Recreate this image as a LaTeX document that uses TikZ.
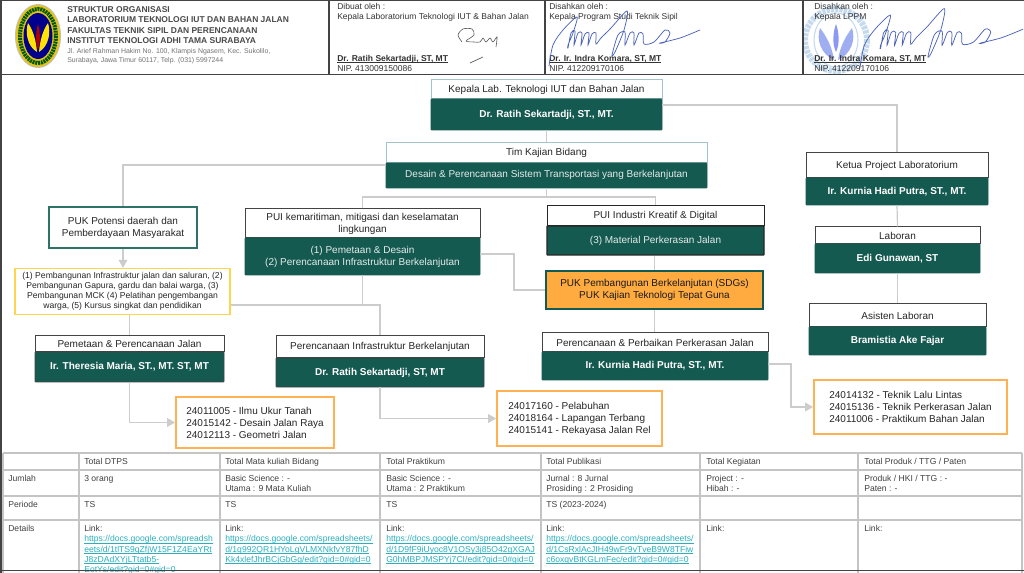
\documentclass[tikz,border=0pt]{standalone}
\usepackage{fontspec}
\setmainfont{Liberation Sans}
\usetikzlibrary{arrows.meta}
\definecolor{tealdark}{HTML}{155A50}
\definecolor{tealline}{HTML}{A2C4C9}
\definecolor{tealedge}{HTML}{2F7268}
\definecolor{wiregrey}{HTML}{CCCCCC}
\definecolor{gridgrey}{HTML}{C4C4C4}
\definecolor{darkline}{HTML}{434343}
\definecolor{orangefill}{HTML}{FFAB40}
\definecolor{orangeline}{HTML}{FFB254}
\definecolor{yellowline}{HTML}{FFD54F}
\definecolor{linkteal}{HTML}{2AAFBF}
\definecolor{inkblue}{HTML}{4A62B8}
\definecolor{stampblue}{HTML}{C6DAEE}
\definecolor{headgrey}{HTML}{4A4A4A}
\newlength\px
\setlength\px{0.75pt}
\newcommand{\boxfont}{\fontsize{7.5pt}{9pt}\selectfont}
\newcommand{\cellfont}{\fontsize{6.45pt}{7.6pt}\selectfont}
\newcommand{\undl}[1]{\setbox0\hbox{#1}\rlap{\rule[-0.9pt]{\wd0}{0.35pt}}\box0}
\newcommand{\lnk}[1]{\textcolor{linkteal}{\undl{#1}}}
\newcommand{\inksign}{\draw[color=inkblue, line width=0.55pt] plot[smooth] coordinates {(0,0) (4,-21) (14,-36) (28,-49) (24,-33) (19,-21) (19,-18) (22,-33) (26,-35) (25,-21) (29,-33) (33,-33) (32,-21) (36,-32) (40,-33) (39,-21) (43,-32) (47,-33) (47,-22) (52,-28) (62,-38) (78,-55) (75,-36) (66,-14) (63,-11) (69,-31) (76,-34) (76,-21) (81,-33) (85,-33) (85,-21) (90,-33) (94,-32) (95,-22) (105,-24) (116,-36) (121,-33) (116,-24) (111,-23) (131,-28) (151,-36)};}
\tikzset{>={Triangle[length=6pt,width=6.5pt]}}

\begin{document}
\begin{tikzpicture}[x=\px, y=-\px]

%% styles
\tikzstyle{headbox}=[draw=darkline, fill=white, text=black!85, font=\boxfont, align=center, inner sep=0pt, line width=0.75pt]
\tikzstyle{bodybox}=[draw=tealdark, fill=tealdark, text=white, font=\boxfont\bfseries, align=center, inner sep=0pt, line width=0.6pt, rounded corners=0.5pt]
\tikzstyle{softbody}=[bodybox, font=\boxfont, text=white!88!tealdark]
\tikzstyle{listbox}=[draw=orangeline, fill=white, text=black!85, font=\boxfont, align=left, inner sep=0pt, line width=1.3pt]
\tikzstyle{wire}=[draw=wiregrey, line width=0.9pt]
\tikzstyle{gridline}=[draw=gridgrey, line width=0.9pt]
\tikzstyle{frame}=[draw=darkline, line width=1pt]
\tikzstyle{letter}=[anchor=north west, inner sep=0pt, text=black!80, font=\fontsize{6.4pt}{7.6pt}\selectfont, align=left]
\tikzstyle{cell}=[anchor=north west, inner sep=0pt, text=black!75, font=\cellfont, align=left]

\useasboundingbox (0,0) rectangle (1024,573);
\fill[white] (0,0) rectangle (1024,573);

%% logo
\fill[color=black!25] (38,36) ellipse [x radius=23, y radius=32];
\fill[color=yellow!70!orange!90!black] (38,36) ellipse [x radius=22, y radius=31];
\draw[color=green!35!black, line width=3pt, dash pattern=on 1.5pt off 0.6pt] (38,36) ellipse [x radius=18, y radius=27];
\fill[color=blue!55!black] (38,36) ellipse [x radius=14.5, y radius=23];
\fill[color=yellow!85!orange] (37,52) .. controls (27,46) and (25,32) .. (28,23) .. controls (33,30) and (36,40) .. (37,52);
\fill[color=yellow!85!orange] (39,52) .. controls (49,46) and (51,32) .. (48,23) .. controls (43,30) and (40,40) .. (39,52);
\fill[color=red!70!black] (38,50) .. controls (35,42) and (36,30) .. (38,24) .. controls (40,30) and (41,42) .. (38,50);

%% stamp
\draw[color=stampblue, line width=4.5pt, dash pattern=on 2.5pt off 0.8pt] (836,40) circle [radius=31];
\draw[color=stampblue, line width=0.8pt] (836,40) ellipse [x radius=22, y radius=27];
\fill[color=stampblue!80!blue] (834,60) .. controls (821,54) and (816,40) .. (820,28) .. controls (826,36) and (832,46) .. (834,60);
\fill[color=stampblue!80!blue] (838,60) .. controls (851,54) and (856,40) .. (852,28) .. controls (846,36) and (840,46) .. (838,60);
\fill[color=stampblue!70!blue] (836,52) .. controls (832,44) and (833,32) .. (836,24) .. controls (839,32) and (840,44) .. (836,52);

%% header frame
\path[frame] (1,0.5) -- (1024,0.5);
\path[frame] (0,74.5) -- (1024,74.5);
\path[frame] (329,0) -- (329,74.5);
\path[frame] (545,0) -- (545,74.5);
\path[frame] (803,0) -- (803,74.5);
\path[draw=darkline, line width=1.2pt] (0.8,0) -- (0.8,573);

%% header text
\node(H1)[letter, text=headgrey, font=\fontsize{6.35pt}{7.9pt}\selectfont\bfseries] at (67,6)
{
STRUKTUR ORGANISASI\\
LABORATORIUM TEKNOLOGI IUT DAN BAHAN JALAN\\
FAKULTAS TEKNIK SIPIL DAN PERENCANAAN\\
INSTITUT TEKNOLOGI ADHI TAMA SURABAYA
};

\node(H2)[letter, text=black!55, font=\fontsize{5.2pt}{6.2pt}\selectfont] at (67,48.5)
{
Jl. Arief Rahman Hakim No. 100, Klampis Ngasem, Kec. Sukolilo,\\
Surabaya, Jawa Timur 60117, Telp. (031) 5997244
};

\node(H3)[letter] at (337,3) {Dibuat oleh :\\ Kepala Laboratorium Teknologi IUT \& Bahan Jalan};
\node(H4)[letter] at (337,55) {\undl{\textbf{Dr. Ratih Sekartadji, ST, MT}}\\ NIP. 413009150086};
\node(H5)[letter] at (549,3) {Disahkan oleh :\\ Kepala Program Studi Teknik Sipil};
\node(H6)[letter] at (549,55) {\undl{\textbf{Dr. Ir. Indra Komara, ST, MT}}\\ NIP. 412209170106};
\node(H7)[letter] at (814,3) {Disahkan oleh :\\ Kepala LPPM};
\node(H8)[letter] at (814,55) {\undl{\textbf{Dr. Ir. Indra Komara, ST, MT}}\\ NIP. 412209170106};

%% signatures
\begin{scope}[shift={(549,66)}]
\inksign
\end{scope}
\begin{scope}[shift={(860,68)}, xscale=1.08, yscale=1.08]
\inksign
\end{scope}
\draw[color=black!65, line width=0.45pt] plot[smooth] coordinates {(462,42) (458,35) (463,29) (472,29) (474,35) (466,41) (474,42) (480,42) (483,38) (486,42) (490,38) (493,42) (497,37) (496,47)};
\draw[color=black!65, line width=0.5pt] (470,63) -- (483,57);

%% chart boxes
\node(K1)[headbox, draw=tealline, minimum width=231\px, minimum height=19\px] at (546.5,89.5) {Kepala Lab. Teknologi IUT dan Bahan Jalan};
\node(K2)[bodybox, minimum width=231\px, minimum height=31\px] at (546.5,114.5) {Dr. Ratih Sekartadji, ST., MT.};

\node(T1)[headbox, draw=tealline, minimum width=321\px, minimum height=20\px] at (546.5,153) {Tim Kajian Bidang};
\node(T2)[softbody, minimum width=321\px, minimum height=25\px] at (546.5,175.5) {\raisebox{3pt}{Desain \& Perencanaan Sistem Transportasi yang Berkelanjutan}};

\node(C1)[headbox, minimum width=182\px, minimum height=25\px] at (897,165.5) {Ketua Project Laboratorium};
\node(C2)[bodybox, minimum width=182\px, minimum height=27\px] at (897,191.5) {Ir. Kurnia Hadi Putra, ST., MT.};

\node(L1)[headbox, minimum width=165\px, minimum height=17\px] at (897.5,235.5) {Laboran};
\node(L2)[bodybox, minimum width=165\px, minimum height=29\px] at (897.5,258.5) {Edi Gunawan, ST};

\node(A1)[headbox, minimum width=177\px, minimum height=23\px] at (897.5,315.5) {Asisten Laboran};
\node(A2)[bodybox, minimum width=177\px, minimum height=28\px] at (897.5,341) {Bramistia Ake Fajar};

\node(U1)[headbox, draw=tealedge, line width=1.2pt, minimum width=148\px, minimum height=41\px] at (123,227.5) {PUK Potensi daerah dan\\ Pemberdayaan Masyarakat};

\node(Y1)[headbox, draw=yellowline, line width=1pt, minimum width=215\px, minimum height=46\px, font=\fontsize{6.45pt}{7.6pt}\selectfont] at (122.5,291.5)
{
(1) Pembangunan Infrastruktur jalan dan saluran, (2)\\
Pembangunan Gapura, gardu dan balai warga, (3)\\
Pembangunan MCK (4) Pelatihan pengembangan\\
warga, (5) Kursus singkat dan pendidikan
};

\node(M1)[headbox, minimum width=235\px, minimum height=29\px] at (362.5,223.5) {PUI kemaritiman, mitigasi dan keselamatan\\ lingkungan};
\node(M2)[softbody, minimum width=235\px, minimum height=37\px] at (362.5,256.5) {(1) Pemetaan \& Desain\\ (2) Perencanaan Infrastruktur Berkelanjutan};

\node(V1)[headbox, draw=black!85, minimum width=217\px, minimum height=20\px] at (655.5,216) {PUI Industri Kreatif \& Digital};
\node(V2)[softbody, draw=black!85, line width=1.1pt, minimum width=217\px, minimum height=29\px] at (655.5,240.5) {(3) Material Perkerasan Jalan};

\node(G1)[headbox, draw=tealdark, fill=orangefill, line width=1.1pt, text=black!90, minimum width=217\px, minimum height=38\px] at (654.5,290) {PUK Pembangunan Berkelanjutan (SDGs)\\ PUK Kajian Teknologi Tepat Guna};

\node(P1)[headbox, minimum width=189\px, minimum height=16\px] at (129.5,344) {Pemetaan \& Perencanaan Jalan};
\node(P2)[bodybox, draw=darkline, fill=tealdark, minimum width=189\px, minimum height=30\px] at (129.5,367) {Ir. Theresia Maria, ST., MT. ST, MT};

\node(R1)[headbox, minimum width=208\px, minimum height=22\px] at (380,347) {Perencanaan Infrastruktur Berkelanjutan};
\node(R2)[bodybox, draw=darkline, fill=tealdark, minimum width=208\px, minimum height=29\px] at (380,372.5) {Dr. Ratih Sekartadji, ST, MT};

\node(S1)[headbox, minimum width=226\px, minimum height=19\px] at (655,342.5) {Perencanaan \& Perbaikan Perkerasan Jalan};
\node(S2)[bodybox, minimum width=226\px, minimum height=28\px] at (655,366) {\raisebox{2pt}{Ir. Kurnia Hadi Putra, ST., MT.}};

\node(D1)[listbox, minimum width=158\px, minimum height=51\px] at (255,422.5) {24011005 - Ilmu Ukur Tanah\\ 24015142 - Desain Jalan Raya\\ 24012113 - Geometri Jalan};
\node(D2)[listbox, minimum width=165\px, minimum height=55\px] at (579.5,418.5) {24017160 - Pelabuhan\\ 24018164 - Lapangan Terbang\\ 24015141 - Rekayasa Jalan Rel};
\node(D3)[listbox, minimum width=193\px, minimum height=54\px] at (910.5,407) {24014132 - Teknik Lalu Lintas\\ 24015136 - Teknik Perkerasan Jalan\\ 24011006 - Praktikum Bahan Jalan};

%% bends
\coordinate (J1) at (662,105);
\coordinate (J2) at (500,197);
\coordinate (J3) at (300,305);
\coordinate (J4) at (514,254);
\coordinate (J5) at (300,165);
\coordinate (J6) at (768,364);
\coordinate (J7) at (791,407);

%% arrows
\path [wire] (K2.east |- J1) -| (C1.north);
\path [wire] (K2.south) -- (T1.north);
\path [wire] (T1.west |- J5) -| (U1.north);
\path [wire] (T2.south) -- (T2.south |- J2);
\path [wire] (M1.north) |- (J2) -| (V1.north);
\path [wire] (C2.south) -- (L1.north);
\path [wire] (L2.south) -- (A1.north);
\path [wire, ->] (U1.south) -- (Y1.north -| U1.south);
\path [wire] (Y1.south -| P1.north) -- (P1.north);
\path [wire] (Y1.east |- J3) -| (R1.north);
\path [wire] (M2.south) -- (M2.south |- J3);
\path [wire] (M2.east |- J4) -| (514,290) -- (G1.west);
\path [wire] (V2.south -| G1.north) -- (G1.north);
\path [wire] (G1.south) -- (G1.south |- S1.north);
\path [wire, ->] (P2.south) |- (D1.west);
\path [wire, ->] (R2.south) |- (D2.west);
\path [wire, ->] (S2.east |- J6) -| (J7) -- (D3.west);

%% table
\begin{scope}
\clip (0,445) rectangle (1024,573);
\foreach \xcol in {3,79,220,380,541,700,858,1022}
{
\path [gridline] (\xcol,453) -- (\xcol,573);
}
\foreach \yrow in {453,470,496,520}
{
\path [gridline] (3,\yrow) -- (1022,\yrow);
}
\node(N1)[cell] at (84,457.8) {Total DTPS};
\node(N2)[cell] at (225,457.8) {Total Mata kuliah Bidang};
\node(N3)[cell] at (386,457.8) {Total Praktikum};
\node(N4)[cell] at (546,457.8) {Total Publikasi};
\node(N5)[cell] at (706,457.8) {Total Kegiatan};
\node(N6)[cell] at (864,457.8) {Total Produk / TTG / Paten};

\node(J0)[cell] at (8,475.3) {Jumlah};
\node(JA)[cell] at (84,475.3) {3 orang};
\node(JB)[cell] at (225,475.3) {Basic Science : -\\ Utama : 9 Mata Kuliah};
\node(JC)[cell] at (386,475.3) {Basic Science : -\\ Utama : 2 Praktikum};
\node(JD)[cell] at (546,475.3) {Jurnal : 8 Jurnal\\ Prosiding : 2 Prosiding};
\node(JE)[cell] at (706,475.3) {Project : -\\ Hibah : -};
\node(JF)[cell] at (864,475.3) {Produk / HKI / TTG : -\\ Paten : -};

\node(E0)[cell] at (8,501.3) {Periode};
\node(EA)[cell] at (84,501.3) {TS};
\node(EB)[cell] at (225,501.3) {TS};
\node(EC)[cell] at (386,501.3) {TS};
\node(ED)[cell] at (546,501.3) {TS (2023-2024)};

\node(F0)[cell] at (8,525.3) {Details};
\node(FA)[cell] at (84,525.3) {Link:\\ \lnk{https://docs.google.com/spreadsh}\\ \lnk{eets/d/1tlTS9qZfjW15F1Z4EaYRt}\\ \lnk{J8zDAdXYjLTtatb5-}\\ \lnk{EotYs/edit?gid=0\#gid=0}};
\node(FB)[cell] at (225,525.3) {Link:\\ \lnk{https://docs.google.com/spreadsheets/}\\ \lnk{d/1q992QR1HYoLgVLMXNkfvY87fhD}\\ \lnk{Kk4xlefJhrBCjGbGg/edit?gid=0\#gid=0}};
\node(FC)[cell] at (386,525.3) {Link:\\ \lnk{https://docs.google.com/spreadsheets/}\\ \lnk{d/1D9fF9iUyoc8V1OSy3j85O42gXGAJ}\\ \lnk{G0hMBPJMSPYj7CI/edit?gid=0\#gid=0}};
\node(FD)[cell] at (546,525.3) {Link:\\ \lnk{https://docs.google.com/spreadsheets/}\\ \lnk{d/1CsRxlAcJIH49wFr9vTveB9W8TFiw}\\ \lnk{c6oxqvBtKGLmFec/edit?gid=0\#gid=0}};
\node(FE)[cell] at (706,525.3) {Link:};
\node(FF)[cell] at (864,525.3) {Link:};
\end{scope}

\path[draw=darkline, line width=1.3pt] (0,570.5) -- (1024,570.5);

\end{tikzpicture}
\end{document}
